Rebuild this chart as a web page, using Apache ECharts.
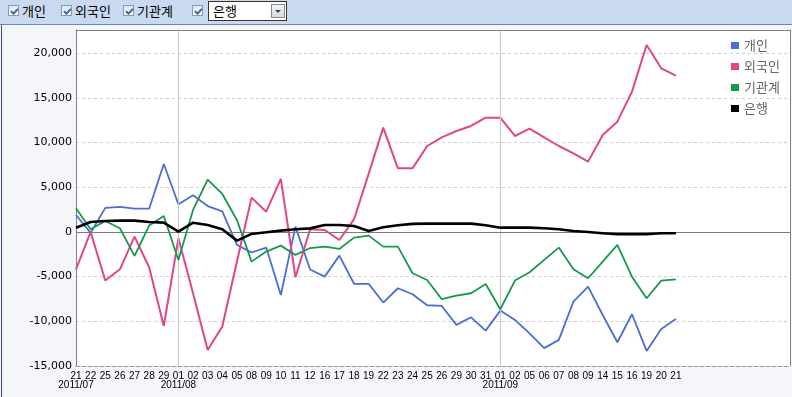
<!DOCTYPE html>
<html><head><meta charset="utf-8">
<script src="https://cdn.jsdelivr.net/npm/echarts@6/dist/echarts.min.js"></script>
<style>
html,body{margin:0;padding:0;width:792px;height:397px;overflow:hidden;background:#f4f6fa;}
#bar{position:absolute;left:0;top:0;width:792px;height:24px;background:#c9daf0;border-bottom:1px solid #6a86b2;font-family:"Noto Sans CJK KR",sans-serif;font-size:13px;color:#000;z-index:5;}
.cb{position:absolute;top:5px;width:11px;height:11px;border:1px solid #7f9db9;background:linear-gradient(#dfe6f1,#f7f9fc);box-sizing:border-box;}
.cb svg{position:absolute;left:1px;top:1px;}
.lbl{position:absolute;top:2px;line-height:18px;}
#dd{position:absolute;left:208px;top:1px;width:79px;height:20px;border:1px solid #333;background:#fff;box-sizing:border-box;}
#dd span{position:absolute;left:4px;top:0;line-height:18px;}
#dd i{position:absolute;right:1px;top:2px;width:14px;height:14px;border:1px solid #8a8a8a;background:linear-gradient(#f6f6f6,#d8d8d8);box-sizing:border-box;}
#dd i:after{content:"";position:absolute;left:3px;top:5px;border-left:3px solid transparent;border-right:3px solid transparent;border-top:3px solid #444;}
#frame{position:absolute;left:1px;top:25px;width:1px;height:372px;background:#3a4f78;z-index:5;}
#chart{position:absolute;left:0;top:0;width:792px;height:397px;}
</style></head>
<body>
<div id="chart"></div>
<div id="frame"></div>
<div id="bar"></div>
<script>
// ---- data ----
const days = ['21','22','25','26','27','28','29','01','02','03','04','05','08','09','10','11','12','16','17','18','19','22','23','24','25','26','29','30','31','01','02','05','06','07','08','09','14','15','16','19','20','21'];
const monthIndex = [0, 7, 29];
const monthNames = ['2011/07', '2011/08', '2011/09'];
const seriesNames = ['개인', '외국인', '기관계', '은행'];
const individual = [1900,-100,2700,2800,2600,2600,7600,3100,4100,2900,2300,-1450,-2300,-1750,-7050,600,-4200,-5000,-2650,-5800,-5800,-7900,-6300,-6970,-8200,-8280,-10400,-9550,-11040,-8800,-9840,-11340,-13000,-12080,-7800,-6120,-9290,-12340,-9210,-13310,-10850,-9730];
const foreign = [-4180,0,-5440,-4180,-520,-3950,-10520,-710,-6860,-13200,-10590,-3300,3840,2270,5930,-5070,300,220,-900,1400,6500,11670,7120,7120,9620,10590,11300,11860,12790,12790,10740,11560,10590,9620,8800,7870,10850,12340,15700,20920,18310,17490];
const institution = [2650,300,1230,410,-2680,710,1790,-3130,2460,5850,4250,1340,-3320,-2200,-1530,-2570,-1800,-1640,-1900,-630,-410,-1640,-1640,-4620,-5370,-7530,-7120,-6860,-5820,-8650,-5440,-4510,-3130,-1750,-4180,-5180,-3320,-1450,-5000,-7420,-5440,-5300];
const bank = [480,1120,1230,1270,1270,1120,1040,40,1040,780,300,-970,-220,-40,150,300,400,780,780,670,110,520,750,900,930,930,930,930,750,480,480,480,410,300,110,0,-150,-260,-260,-260,-150,-150];
const yMin = -15000, yMax = 22600, yStep = 5000;
const xMin = 0, xMax = 48.8;

const colors = ['#4b6fcf', '#e0468a', '#17994d', '#000000'];
const widths = [1.8, 2, 1.8, 2.6];
const values = [individual, foreign, institution, bank];

// ---- toolbar ----
const bar = document.getElementById('bar');
const check = '<svg width="9" height="9" viewBox="0 0 9 9"><path d="M1 4.2 L3.4 6.6 L8 1.8" stroke="#3f5f95" stroke-width="1.8" fill="none"/></svg>';
const cbX = [8, 61, 123, 192];
const lblX = [22, 75, 137];
cbX.forEach((x, i) => {
  const c = document.createElement('div'); c.className = 'cb'; c.style.left = x + 'px'; c.innerHTML = check; bar.appendChild(c);
  if (i < 3) { const l = document.createElement('div'); l.className = 'lbl'; l.style.left = lblX[i] + 'px'; l.textContent = seriesNames[i]; bar.appendChild(l); }
});
const dd = document.createElement('div'); dd.id = 'dd'; dd.innerHTML = '<span>' + seriesNames[3] + '</span><i></i>'; bar.appendChild(dd);

// ---- chart ----
const chart = echarts.init(document.getElementById('chart'), null, {renderer: 'canvas'});
const series = values.map((arr, k) => ({
  name: seriesNames[k], type: 'line', symbol: 'none', xAxisIndex: 0, yAxisIndex: 0,
  data: arr.map((v, i) => [i, v]),
  lineStyle: {color: colors[k], width: widths[k]}, itemStyle: {color: colors[k]},
  z: 3 + k, animation: false
}));
series[0].markLine = {
  silent: true, symbol: 'none', animation: false, label: {show: false},
  data: [
    {xAxis: monthIndex[1], lineStyle: {color: '#c8c8c8', width: 1, type: 'solid'}},
    {xAxis: monthIndex[2], lineStyle: {color: '#c8c8c8', width: 1, type: 'solid'}},
    {yAxis: 0, lineStyle: {color: '#7a7a7a', width: 1, type: 'solid'}}
  ]
};
const xFont = '"Liberation Sans", Arial, sans-serif';
chart.setOption({
  animation: false,
  backgroundColor: '#f4f6fa',
  grid: {left: 76, top: 30, right: 2, bottom: 31, show: true, backgroundColor: '#ffffff', borderWidth: 0},
  legend: {
    orient: 'vertical', left: 731, top: 39, icon: 'rect', itemWidth: 8, itemHeight: 7, itemGap: 8,
    padding: 0, data: seriesNames,
    textStyle: {color: '#666', fontSize: 13, fontFamily: '"Noto Sans CJK KR", sans-serif'}
  },
  xAxis: [{
    type: 'value', min: xMin, max: xMax, interval: 1,
    axisLine: {show: true, onZero: false, lineStyle: {color: '#999', type: 'dashed'}},
    axisTick: {show: false}, splitLine: {show: false},
    axisLabel: {
      show: true, margin: 5, color: '#000', fontSize: 10, fontFamily: xFont,
      showMaxLabel: false, showMinLabel: true, hideOverlap: false,
      formatter: v => (v === Math.round(v) && v >= 0 && v < days.length) ? days[v] : ''
    }
  }, {
    type: 'value', position: 'top', min: xMin, max: xMax,
    axisLine: {show: true, onZero: false, lineStyle: {color: '#808080'}},
    axisTick: {show: false}, axisLabel: {show: false}, splitLine: {show: false}, z: 10
  }, {
    type: 'value', position: 'bottom', offset: 9, min: xMin, max: xMax, interval: 1,
    axisLine: {show: false}, axisTick: {show: false}, splitLine: {show: false},
    axisLabel: {
      show: true, margin: 5, color: '#000', fontSize: 10, fontFamily: xFont,
      showMaxLabel: false, showMinLabel: true, hideOverlap: false,
      formatter: v => { const m = monthIndex.indexOf(v); return m >= 0 ? monthNames[m] : ''; }
    }
  }],
  yAxis: [{
    type: 'value', min: yMin, max: yMax, interval: yStep,
    axisLine: {show: true, onZero: false, lineStyle: {color: '#808080'}},
    axisTick: {show: false},
    splitLine: {show: true, lineStyle: {color: '#cfcfcf', type: [3, 3]}},
    axisLabel: {
      margin: 4, color: '#000', fontSize: 11, fontFamily: '"DejaVu Sans", sans-serif',
      showMaxLabel: false,
      formatter: v => (v % yStep === 0 ? v.toLocaleString('en-US') : '')
    }
  }, {
    type: 'value', position: 'right', min: yMin, max: yMax,
    axisLine: {show: true, onZero: false, lineStyle: {color: '#808080'}},
    axisTick: {show: false}, axisLabel: {show: false}, splitLine: {show: false}
  }],
  series: series
});
</script>
</body></html>
